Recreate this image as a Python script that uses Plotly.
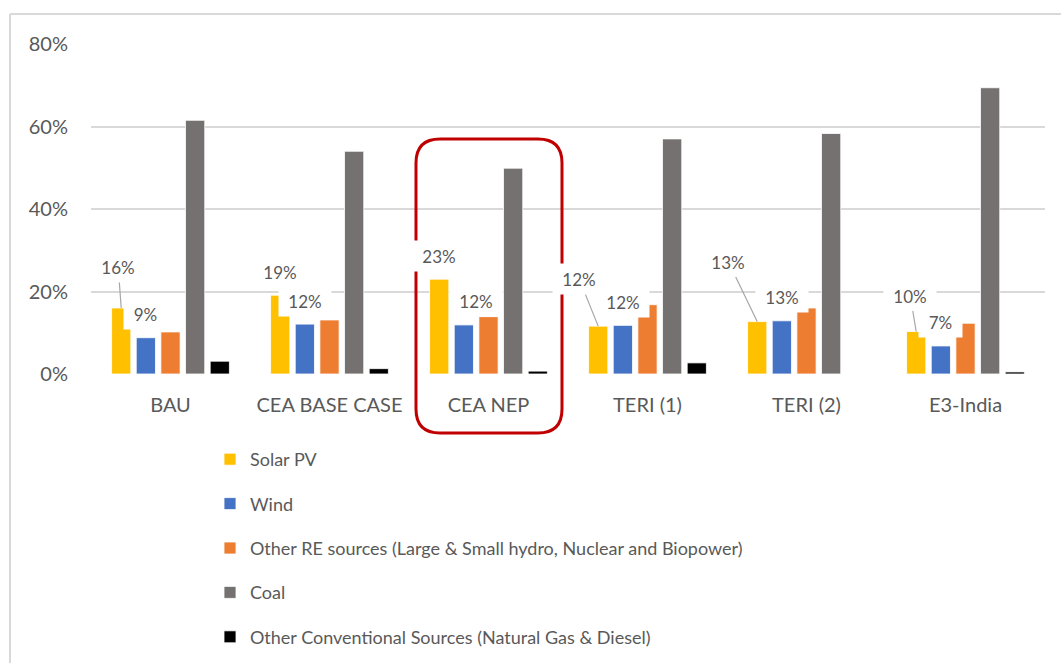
import plotly.graph_objects as go

# ---------------- data ----------------
categories = ["BAU", "CEA BASE CASE", "CEA NEP", "TERI (1)", "TERI (2)", "E3-India"]
series_names = [
    "Solar PV",
    "Wind",
    "Other RE sources (Large & Small hydro, Nuclear and Biopower)",
    "Coal",
    "Other Conventional Sources (Natural Gas & Diesel)",
]
solar = [0.160, 0.191, 0.230, 0.116, 0.127, 0.103]
wind = [0.088, 0.121, 0.119, 0.118, 0.129, 0.068]
other_re = [0.102, 0.131, 0.139, 0.168, 0.160, 0.123]
coal = [0.615, 0.540, 0.499, 0.570, 0.583, 0.694]
other_conv = [0.031, 0.013, 0.007, 0.027, 0.0, 0.005]
colors = ["#FFC000", "#4472C4", "#ED7D31", "#767171", "#000000"]
y_tick_vals = [0, 0.2, 0.4, 0.6, 0.8]
y_tick_text = ["0%", "20%", "40%", "60%", "80%"]

# label placement (pixel offsets), None = label just above bar
solar_leader = [(-3, -41), None, None, (-19, -47), (-29, -60), (-6, -36)]
wind_label_xshift = [0, 0, 12, 0, 0, 0]

# ---------------- layout geometry ----------------
W, H = 1061, 663
L, R, T, B = 91, 16, 44, 289
PW, PH = W - L - R, H - T - B
BARGAP = 0.225
N_SER = 5
SLOT = (1 - BARGAP) / N_SER


def px_x(p):
    return (p - L) / PW


def px_y(p):
    return (H - B - p) / PH


TEXT = "#595959"
GRID = "#D9D9D9"
FONT = "Lato"

all_series = [solar, wind, other_re, coal, other_conv]

fig = go.Figure()
for i, (name, vals) in enumerate(zip(series_names, all_series)):
    fig.add_trace(
        go.Bar(
            x=categories,
            y=vals,
            name=name,
            legendgroup=f"g{i}",
            marker=dict(color=colors[i], line=dict(color="white", width=0.8)),
        )
    )


def pct(v):
    return f"{round(v * 100)}%"


def bar_x(ci, si):
    return ci + (si - (N_SER - 1) / 2) * SLOT


annotations = []
for ci, cat in enumerate(categories):
    # solar label
    lab_w = 44 if len(pct(solar[ci])) == 3 else 35
    lead = solar_leader[ci]
    common = dict(
        xref="x", yref="y", text=pct(solar[ci]), bgcolor="white", borderpad=4,
        width=lab_w, height=22, font=dict(family=FONT, size=17, color=TEXT),
    )
    if lead is None:
        annotations.append(dict(x=bar_x(ci, 0), y=solar[ci], showarrow=False, yshift=23.5, **common))
    else:
        annotations.append(dict(
            x=bar_x(ci, 0), y=solar[ci], showarrow=True, arrowhead=0, arrowwidth=1.2,
            arrowcolor="#A6A6A6", ax=lead[0], ay=lead[1], standoff=0, **common))
    # wind label
    lab_w = 44 if len(pct(wind[ci])) == 3 else 35
    annotations.append(dict(
        xref="x", yref="y", x=bar_x(ci, 1), y=wind[ci], text=pct(wind[ci]),
        showarrow=False, yshift=23.5, xshift=wind_label_xshift[ci],
        bgcolor="white", borderpad=4, width=lab_w, height=22,
        font=dict(family=FONT, size=17, color=TEXT),
    ))

# rounded highlight box around CEA NEP
x0, x1, y0, y1, r = 416, 562, 139, 433, 24
pts = [
    ("M", (x0 + r, y0)), ("L", (x1 - r, y0)), ("Q", (x1, y0), (x1, y0 + r)),
    ("L", (x1, y1 - r)), ("Q", (x1, y1), (x1 - r, y1)), ("L", (x0 + r, y1)),
    ("Q", (x0, y1), (x0, y1 - r)), ("L", (x0, y0 + r)), ("Q", (x0, y0), (x0 + r, y0)),
]
path = ""
for item in pts:
    cmd = item[0]
    coords = " ".join(f"{px_x(px):.5f},{px_y(py):.5f}" for px, py in item[1:])
    path += f"{cmd} {coords} "
path += "Z"

shapes = [
    dict(type="path", xref="paper", yref="paper", path=path,
         line=dict(color="#C00000", width=3), fillcolor="rgba(0,0,0,0)"),
    # chart area border (left and top)
    dict(type="line", xref="paper", yref="paper", x0=px_x(10), x1=px_x(10),
         y0=px_y(14), y1=px_y(H + 5), line=dict(color=GRID, width=2)),
    dict(type="line", xref="paper", yref="paper", x0=px_x(10), x1=px_x(W + 5),
         y0=px_y(14), y1=px_y(14), line=dict(color=GRID, width=2)),
]

fig.update_layout(
    width=W, height=H,
    margin=dict(l=L, r=R, t=T, b=B, pad=0, autoexpand=False),
    paper_bgcolor="white", plot_bgcolor="white",
    barmode="group", bargap=BARGAP, bargroupgap=0.22,
    font=dict(family=FONT, color=TEXT),
    showlegend=True,
    legend=dict(
        orientation="v", xref="paper", x=px_x(210), xanchor="left",
        yref="container", y=(H - 441) / H, yanchor="top",
        font=dict(family=FONT, size=18, color=TEXT), tracegroupgap=18,
        bgcolor="rgba(0,0,0,0)", traceorder="grouped",
    ),
    xaxis=dict(
        type="category", showgrid=False, zeroline=False, showline=False, ticks="",
        tickfont=dict(family=FONT, size=20, color=TEXT), ticklabelstandoff=17,
    ),
    yaxis=dict(
        range=[0, 0.8], tickvals=y_tick_vals, ticktext=y_tick_text,
        showgrid=True, gridcolor=GRID, gridwidth=1.5, zeroline=False, showline=False,
        ticks="", tickfont=dict(family=FONT, size=20, color=TEXT), ticklabelstandoff=22,
    ),
    annotations=annotations,
    shapes=shapes,
)

fig.write_html(
    "out.html",
    config={"displayModeBar": False},
    post_script="document.body.style.margin='0';",
)
